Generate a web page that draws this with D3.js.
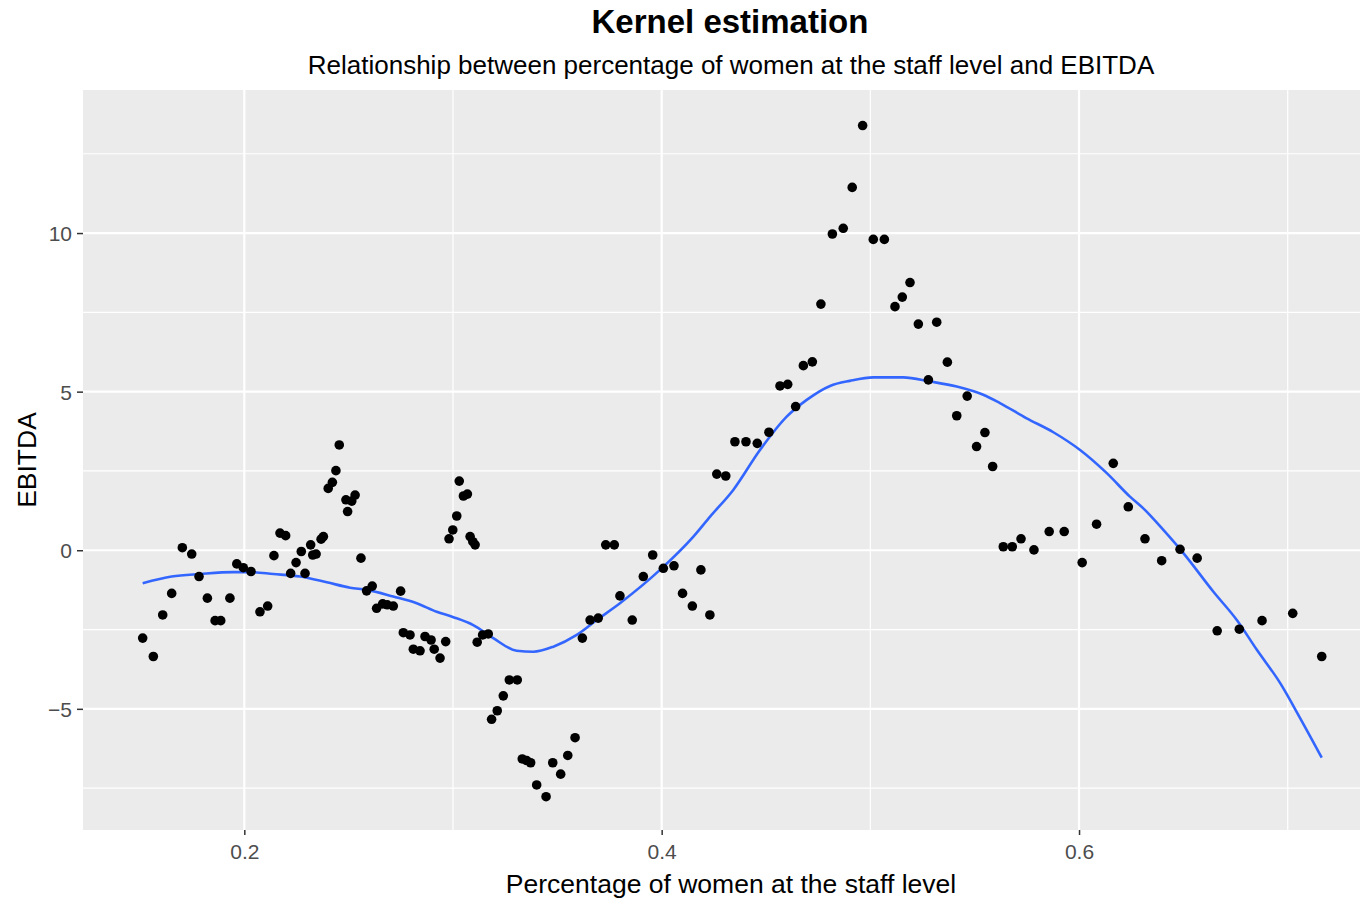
<!DOCTYPE html>
<html>
<head>
<meta charset="utf-8">
<script src="https://cdn.jsdelivr.net/npm/d3@7"></script>
<style>
  body { margin: 0; background: #fff; }
  svg { display: block; font-family: "Liberation Sans", Arial, sans-serif; }
</style>
</head>
<body>
<div id="chart_div"></div>
<script>
/*
 * Data
 */
var staffWomen = [0.1513, 0.1564, 0.1609, 0.1652, 0.1703, 0.1748, 0.1783, 0.1823, 0.1860, 0.1887,
  0.1931, 0.1964, 0.1995, 0.2032, 0.2075, 0.2112, 0.2142, 0.2171, 0.2198, 0.2222,
  0.2248, 0.2273, 0.2291, 0.2318, 0.2328, 0.2344, 0.2368, 0.2379, 0.2402, 0.2422,
  0.2439, 0.2455, 0.2487, 0.2515, 0.2531, 0.2495, 0.2559, 0.2586, 0.2613, 0.2634,
  0.2663, 0.2685, 0.2714, 0.2749, 0.2762, 0.2794, 0.2810, 0.2842, 0.2866, 0.2895,
  0.2910, 0.2938, 0.2965, 0.2981, 0.2999, 0.3018, 0.3030, 0.3050, 0.3069, 0.3082,
  0.3095, 0.3106, 0.3116, 0.3142, 0.3169, 0.3185, 0.3212, 0.3241, 0.3270, 0.3308,
  0.3332, 0.3353, 0.3372, 0.3401, 0.3446, 0.3478, 0.3516, 0.3550, 0.3585, 0.3620,
  0.3657, 0.3696, 0.3732, 0.3773, 0.3800, 0.3859, 0.3912, 0.3957, 0.4008, 0.4059,
  0.4100, 0.4147, 0.4188, 0.4231, 0.4264, 0.4307, 0.4351, 0.4404, 0.4458, 0.4514,
  0.4567, 0.4604, 0.4642, 0.4679, 0.4722, 0.4763, 0.4818, 0.4870, 0.4913, 0.4963,
  0.5014, 0.5067, 0.5118, 0.5153, 0.5190, 0.5230, 0.5278, 0.5318, 0.5369, 0.5414,
  0.5464, 0.5509, 0.5549, 0.5586, 0.5637, 0.5680, 0.5722, 0.5784, 0.5857, 0.5929,
  0.6015, 0.6084, 0.6164, 0.6236, 0.6316, 0.6396, 0.6484, 0.6566, 0.6662, 0.6768,
  0.6877, 0.7024, 0.7163];

var ebitda = [-2.77, -3.35, -2.04, -1.36, 0.08, -0.12, -0.83, -1.51, -2.22, -2.22,
  -1.51, -0.43, -0.55, -0.67, -1.94, -1.76, -0.17, 0.54, 0.46, -0.73,
  -0.39, -0.04, -0.73, 0.17, -0.15, -0.12, 0.35, 0.43, 1.95, 2.14,
  2.51, 3.32, 1.59, 1.55, 1.74, 1.22, -0.25, -1.28, -1.13, -1.83,
  -1.69, -1.72, -1.76, -1.29, -2.60, -2.67, -3.12, -3.17, -2.72, -2.83,
  -3.12, -3.40, -2.88, 0.36, 0.64, 1.08, 2.18, 1.71, 1.77, 0.43,
  0.27, 0.17, -2.90, -2.67, -2.64, -5.33, -5.06, -4.59, -4.09, -4.09,
  -6.58, -6.63, -6.70, -7.40, -7.77, -6.70, -7.06, -6.47, -5.91, -2.77,
  -2.20, -2.14, 0.17, 0.17, -1.44, -2.20, -0.83, -0.15, -0.57, -0.49,
  -1.36, -1.76, -0.62, -2.04, 2.40, 2.34, 3.42, 3.42, 3.37, 3.72,
  5.18, 5.23, 4.53, 5.82, 5.94, 7.76, 9.97, 10.15, 11.44, 13.39,
  9.80, 9.80, 7.68, 7.98, 8.44, 7.13, 5.37, 7.19, 5.93, 4.24,
  4.86, 3.27, 3.71, 2.64, 0.11, 0.11, 0.36, 0.01, 0.59, 0.59,
  -0.39, 0.82, 2.74, 1.37, 0.36, -0.33, 0.03, -0.25, -2.54, -2.49,
  -2.22, -1.99, -3.35];

// kernel smoother curve
var smoothX = [0.1513, 0.1652, 0.1788, 0.1947, 0.2027, 0.2139, 0.2267, 0.2395, 0.2507, 0.2587,
  0.2714, 0.2826, 0.2922, 0.3002, 0.3097, 0.3193, 0.3305, 0.3385, 0.3481, 0.3593,
  0.3689, 0.3800, 0.3992, 0.4152, 0.4232, 0.4343, 0.4471, 0.4599, 0.4695, 0.4807,
  0.4902, 0.5014, 0.5158, 0.5286, 0.5414, 0.5541, 0.5621, 0.5749, 0.5877, 0.6005,
  0.6133, 0.6244, 0.6308, 0.6404, 0.6500, 0.6644, 0.6756, 0.6852, 0.6964, 0.7060,
  0.7163];
var smoothY = [-1.04, -0.83, -0.75, -0.69, -0.69, -0.75, -0.83, -1.01, -1.18, -1.25,
  -1.46, -1.67, -1.94, -2.11, -2.36, -2.77, -3.17, -3.20, -3.04, -2.67,
  -2.20, -1.67, -0.62, 0.43, 1.06, 1.90, 3.16, 4.21, 4.74, 5.18,
  5.34, 5.45, 5.45, 5.32, 5.16, 4.90, 4.64, 4.16, 3.72, 3.16,
  2.43, 1.69, 1.32, 0.64, -0.09, -1.31, -2.20, -3.14, -4.19, -5.30,
  -6.54];

var xTicks = [0.2, 0.4, 0.6];
var xMinor = [0.3, 0.5, 0.7];
var yTicks = [-5, 0, 5, 10];
var yMinor = [-7.5, -2.5, 2.5, 7.5, 12.5];

var titleText = 'Kernel estimation';
var subtitleText = 'Relationship between percentage of women at the staff level and EBITDA';
var xTitle = 'Percentage of women at the staff level';
var yTitle = 'EBITDA';

/*
 * Layout
 */
var gvWidth = 1360, gvHeight = 899;
var panel = { left: 83, right: 1381, top: 90, bottom: 830 };

var svg = d3.select('#chart_div').append('svg')
  .attr('width', gvWidth)
  .attr('height', gvHeight);

var x = d3.scaleLinear().domain([0.1227, 0.7447]).range([panel.left, panel.right]);
var y = d3.scaleLinear().domain([-8.82, 14.51]).range([panel.bottom, panel.top]);

// panel background
svg.append('rect')
  .attr('x', panel.left).attr('y', panel.top)
  .attr('width', panel.right - panel.left)
  .attr('height', panel.bottom - panel.top)
  .attr('fill', '#EBEBEB');

var grid = svg.append('g');

grid.selectAll('.minorX').data(xMinor).enter().append('line')
  .attr('x1', function(d) { return x(d); }).attr('x2', function(d) { return x(d); })
  .attr('y1', panel.top).attr('y2', panel.bottom)
  .attr('stroke', '#fff').attr('stroke-width', 1.2);
grid.selectAll('.minorY').data(yMinor).enter().append('line')
  .attr('y1', function(d) { return y(d); }).attr('y2', function(d) { return y(d); })
  .attr('x1', panel.left).attr('x2', panel.right)
  .attr('stroke', '#fff').attr('stroke-width', 1.2);
grid.selectAll('.majorX').data(xTicks).enter().append('line')
  .attr('x1', function(d) { return x(d); }).attr('x2', function(d) { return x(d); })
  .attr('y1', panel.top).attr('y2', panel.bottom)
  .attr('stroke', '#fff').attr('stroke-width', 2.2);
grid.selectAll('.majorY').data(yTicks).enter().append('line')
  .attr('y1', function(d) { return y(d); }).attr('y2', function(d) { return y(d); })
  .attr('x1', panel.left).attr('x2', panel.right)
  .attr('stroke', '#fff').attr('stroke-width', 2.2);

// axes
var xAxis = d3.axisBottom(x).tickValues(xTicks).tickSize(5).tickPadding(9)
  .tickFormat(d3.format('.1f'));
var yAxis = d3.axisLeft(y).tickValues(yTicks).tickSize(6).tickPadding(5)
  .tickFormat(d3.format('d'));

var gx = svg.append('g').attr('transform', 'translate(0,' + panel.bottom + ')').call(xAxis);
var gy = svg.append('g').attr('transform', 'translate(' + panel.left + ',0)').call(yAxis);

[gx, gy].forEach(function(g) {
  g.select('.domain').remove();
  g.selectAll('.tick line').attr('stroke', '#333').attr('stroke-width', 1.5);
  g.selectAll('.tick text')
    .attr('fill', '#4D4D4D')
    .style('font-size', '21px')
    .style('font-family', '"Liberation Sans", Arial, sans-serif');
});
gx.selectAll('.tick text').attr('dy', '0.71em');
gy.selectAll('.tick text').attr('dy', '0.36em');

// smoother
var line = d3.line()
  .x(function(d) { return x(d[0]); })
  .y(function(d) { return y(d[1]); })
  .curve(d3.curveMonotoneX);

svg.append('path')
  .datum(d3.zip(smoothX, smoothY))
  .attr('d', line)
  .attr('fill', 'none')
  .attr('stroke', '#3366FF')
  .attr('stroke-width', 2.6);

// points
svg.append('g').selectAll('circle')
  .data(d3.zip(staffWomen, ebitda))
  .enter().append('circle')
  .attr('cx', function(d) { return x(d[0]); })
  .attr('cy', function(d) { return y(d[1]); })
  .attr('r', 4.8)
  .attr('fill', '#000');

// titles
svg.append('text')
  .attr('x', 730).attr('y', 33)
  .attr('text-anchor', 'middle')
  .style('font-size', '33px').style('font-weight', 'bold')
  .text(titleText);

svg.append('text')
  .attr('x', 731).attr('y', 74)
  .attr('text-anchor', 'middle')
  .style('font-size', '26px')
  .text(subtitleText);

svg.append('text')
  .attr('x', 731).attr('y', 893)
  .attr('text-anchor', 'middle')
  .style('font-size', '26.5px')
  .text(xTitle);

svg.append('text')
  .attr('transform', 'translate(36,460) rotate(-90)')
  .attr('text-anchor', 'middle')
  .style('font-size', '26.5px')
  .text(yTitle);
</script>
</body>
</html>
